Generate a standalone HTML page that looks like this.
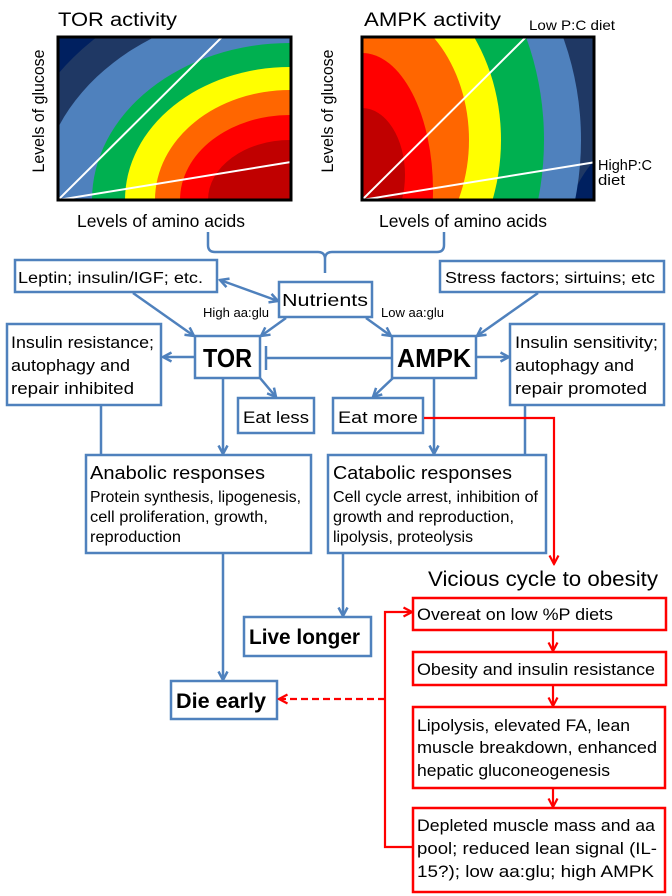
<!DOCTYPE html>
<html><head><meta charset="utf-8"><style>
html,body{margin:0;padding:0;background:#fff;}
svg{display:block;}
text{font-family:"Liberation Sans",Arial,sans-serif;fill:#000;}
</style></head><body>
<svg width="672" height="896" viewBox="0 0 672 896" xmlns="http://www.w3.org/2000/svg">
<defs>
<clipPath id="c1"><rect x="58" y="37" width="233" height="163"/></clipPath>
<clipPath id="c2"><rect x="362" y="37" width="232" height="163"/></clipPath>
<marker id="ab" viewBox="0 0 12 12" refX="10.5" refY="6" markerWidth="12" markerHeight="12" orient="auto-start-reverse" markerUnits="userSpaceOnUse"><path d="M2,1.5 L10.5,6 L2,10.5" fill="none" stroke="#4f81bd" stroke-width="2.5"/></marker>
<marker id="ar" viewBox="0 0 12 12" refX="10.5" refY="6" markerWidth="12" markerHeight="12" orient="auto-start-reverse" markerUnits="userSpaceOnUse"><path d="M2,1.5 L10.5,6 L2,10.5" fill="none" stroke="#ff0000" stroke-width="2.2"/></marker>
</defs>

<!-- Left heatmap -->
<g clip-path="url(#c1)">
<rect x="58" y="37" width="233" height="163" fill="#002060"/>
<ellipse cx="290" cy="200" rx="280" ry="225" fill="#1f3864"/>
<ellipse cx="290" cy="200" rx="250" ry="194" fill="#4f81bd"/>
<ellipse cx="290" cy="200" rx="198" ry="157" fill="#00b050"/>
<ellipse cx="290" cy="200" rx="165" ry="133" fill="#ffff00"/>
<ellipse cx="290" cy="200" rx="135" ry="110" fill="#ff6600"/>
<ellipse cx="290" cy="200" rx="110" ry="85" fill="#ff0000"/>
<ellipse cx="290" cy="200" rx="82" ry="60" fill="#c00000"/>
<line x1="58" y1="200" x2="222" y2="37" stroke="#fff" stroke-width="2"/>
<line x1="58" y1="200" x2="291" y2="162" stroke="#fff" stroke-width="2"/>
</g>
<rect x="58" y="37" width="233" height="163" fill="none" stroke="#000" stroke-width="3"/>

<!-- Right heatmap -->
<g clip-path="url(#c2)">
<rect x="362" y="37" width="232" height="163" fill="#1f3864"/>
<path d="M571,200 Q580,176 594,161 L594,200 Z" fill="#002060"/>
<ellipse cx="362" cy="140" rx="219" ry="259" fill="#4f81bd"/>
<ellipse cx="362" cy="140" rx="182" ry="237" fill="#00b050"/>
<ellipse cx="362" cy="140" rx="139" ry="174" fill="#ffff00"/>
<ellipse cx="362" cy="140" rx="107" ry="138" fill="#ff6600"/>
<ellipse cx="362" cy="190" rx="71" ry="137" fill="#ff0000"/>
<ellipse cx="362" cy="175" rx="43" ry="67" fill="#c00000"/>
</g>
<line x1="362" y1="200" x2="527" y2="36" stroke="#fff" stroke-width="2"/>
<line x1="362" y1="200" x2="596" y2="162" stroke="#fff" stroke-width="2"/>
<rect x="362" y="37" width="232" height="163" fill="none" stroke="#000" stroke-width="3"/>

<!-- Chart labels -->
<text x="58" y="26" font-size="19" textLength="119" lengthAdjust="spacingAndGlyphs">TOR activity</text>
<text x="364" y="26" font-size="19" textLength="137" lengthAdjust="spacingAndGlyphs">AMPK activity</text>
<text x="529" y="30" font-size="14" textLength="86" lengthAdjust="spacingAndGlyphs">Low P:C diet</text>
<text x="598" y="170" font-size="15" textLength="54" lengthAdjust="spacingAndGlyphs">HighP:C</text>
<text x="598" y="185" font-size="15" textLength="27" lengthAdjust="spacingAndGlyphs">diet</text>
<text transform="translate(44,111) rotate(-90)" text-anchor="middle" font-size="17" textLength="123" lengthAdjust="spacingAndGlyphs">Levels of glucose</text>
<text transform="translate(333,111) rotate(-90)" text-anchor="middle" font-size="17" textLength="123" lengthAdjust="spacingAndGlyphs">Levels of glucose</text>
<text x="77" y="227" font-size="17.5" textLength="168" lengthAdjust="spacingAndGlyphs">Levels of amino acids</text>
<text x="379" y="227" font-size="17.5" textLength="168" lengthAdjust="spacingAndGlyphs">Levels of amino acids</text>

<!-- Blue connectors -->
<g fill="none" stroke="#4f81bd" stroke-width="2.5">
<path d="M208,232 L208,245 Q208,252 215,252 L318,252 Q325,252 325,259 L325,273 M325,259 Q325,252 332,252 L437,252 Q444,252 444,245 L444,232"/>
<line x1="220" y1="280" x2="278" y2="301" marker-start="url(#ab)" marker-end="url(#ab)"/>
<line x1="133" y1="293" x2="194" y2="336" marker-end="url(#ab)"/>
<line x1="286" y1="318" x2="261" y2="336" marker-end="url(#ab)"/>
<line x1="366" y1="318" x2="391" y2="336" marker-end="url(#ab)"/>
<line x1="538" y1="293" x2="477" y2="336" marker-end="url(#ab)"/>
<line x1="194" y1="357" x2="163" y2="357" marker-end="url(#ab)"/>
<line x1="477" y1="357" x2="509" y2="357" marker-end="url(#ab)"/>
<line x1="391" y1="358" x2="266" y2="358"/>
<line x1="266" y1="346" x2="266" y2="370"/>
<line x1="260" y1="378" x2="276" y2="397" marker-end="url(#ab)"/>
<line x1="393" y1="378" x2="373" y2="397" marker-end="url(#ab)"/>
<line x1="223" y1="379" x2="223" y2="454" marker-end="url(#ab)"/>
<line x1="434" y1="379" x2="434" y2="454" marker-end="url(#ab)"/>
<line x1="101" y1="405" x2="101" y2="455"/>
<line x1="525" y1="405" x2="525" y2="455"/>
<line x1="223" y1="554" x2="223" y2="680" marker-end="url(#ab)"/>
<line x1="343" y1="554" x2="343" y2="616" marker-end="url(#ab)"/>
</g>

<!-- Blue boxes -->
<g fill="#fff" stroke="#4f81bd" stroke-width="2.5">
<rect x="15" y="260" width="202" height="32"/>
<rect x="279" y="282" width="93" height="35"/>
<rect x="440" y="261" width="224" height="31"/>
<rect x="195" y="336" width="65" height="42"/>
<rect x="392" y="336" width="84" height="42"/>
<rect x="7" y="324" width="154" height="81"/>
<rect x="510" y="324" width="154" height="81"/>
<rect x="238" y="398" width="76" height="35"/>
<rect x="333" y="398" width="90" height="35"/>
<rect x="86" y="455" width="225" height="98"/>
<rect x="328" y="455" width="218" height="98"/>
<rect x="244" y="617" width="127" height="39"/>
<rect x="171" y="681" width="106" height="38"/>
</g>

<!-- Red connectors -->
<g fill="none" stroke="#ff0000" stroke-width="2.2">
<path d="M424,418 L554,418 L554,564" marker-end="url(#ar)"/>
<line x1="553" y1="631" x2="553" y2="651" marker-end="url(#ar)"/>
<line x1="553" y1="686" x2="553" y2="706" marker-end="url(#ar)"/>
<line x1="553" y1="789" x2="553" y2="807" marker-end="url(#ar)"/>
<path d="M412,847 L385,847 L385,612 L412,612" marker-end="url(#ar)"/>
<line x1="385" y1="699" x2="279" y2="699" stroke-dasharray="7,4" marker-end="url(#ar)"/>
</g>

<!-- Red boxes -->
<g fill="#fff" stroke="#ff0000" stroke-width="2.5">
<rect x="413" y="598" width="253" height="32"/>
<rect x="413" y="652" width="253" height="33"/>
<rect x="413" y="707" width="252" height="81"/>
<rect x="413" y="808" width="252" height="84"/>
</g>

<!-- Box texts -->
<text x="18" y="283" font-size="15.5" textLength="185" lengthAdjust="spacingAndGlyphs">Leptin; insulin/IGF; etc.</text>
<text x="282" y="306" font-size="17.5" textLength="86" lengthAdjust="spacingAndGlyphs">Nutrients</text>
<text x="445" y="283" font-size="15.5" textLength="210" lengthAdjust="spacingAndGlyphs">Stress factors; sirtuins; etc</text>
<text x="203" y="317" font-size="13" textLength="66" lengthAdjust="spacingAndGlyphs">High aa:glu</text>
<text x="381" y="317" font-size="13" textLength="63" lengthAdjust="spacingAndGlyphs">Low aa:glu</text>
<text x="203" y="367" font-size="26" font-weight="bold" textLength="49" lengthAdjust="spacingAndGlyphs">TOR</text>
<text x="397" y="367" font-size="26" font-weight="bold" textLength="74" lengthAdjust="spacingAndGlyphs">AMPK</text>

<text x="11" y="348" font-size="17" textLength="143" lengthAdjust="spacingAndGlyphs">Insulin resistance;</text>
<text x="11" y="371" font-size="17" textLength="119" lengthAdjust="spacingAndGlyphs">autophagy and</text>
<text x="11" y="394" font-size="17" textLength="123" lengthAdjust="spacingAndGlyphs">repair inhibited</text>

<text x="515" y="348" font-size="17" textLength="143" lengthAdjust="spacingAndGlyphs">Insulin sensitivity;</text>
<text x="515" y="371" font-size="17" textLength="119" lengthAdjust="spacingAndGlyphs">autophagy and</text>
<text x="515" y="394" font-size="17" textLength="132" lengthAdjust="spacingAndGlyphs">repair promoted</text>

<text x="243" y="423" font-size="17" textLength="66" lengthAdjust="spacingAndGlyphs">Eat less</text>
<text x="338" y="423" font-size="17" textLength="80" lengthAdjust="spacingAndGlyphs">Eat more</text>

<text x="90" y="479" font-size="18.5" textLength="175" lengthAdjust="spacingAndGlyphs">Anabolic responses</text>
<text x="90" y="502" font-size="15.5" textLength="211" lengthAdjust="spacingAndGlyphs">Protein synthesis, lipogenesis,</text>
<text x="90" y="522" font-size="15.5" textLength="178" lengthAdjust="spacingAndGlyphs">cell proliferation, growth,</text>
<text x="90" y="542" font-size="15.5" textLength="91" lengthAdjust="spacingAndGlyphs">reproduction</text>

<text x="333" y="479" font-size="18.5" textLength="179" lengthAdjust="spacingAndGlyphs">Catabolic responses</text>
<text x="333" y="502" font-size="15.5" textLength="205" lengthAdjust="spacingAndGlyphs">Cell cycle arrest, inhibition of</text>
<text x="333" y="522" font-size="15.5" textLength="181" lengthAdjust="spacingAndGlyphs">growth and reproduction,</text>
<text x="333" y="542" font-size="15.5" textLength="140" lengthAdjust="spacingAndGlyphs">lipolysis, proteolysis</text>

<text x="428" y="586" font-size="21" textLength="230" lengthAdjust="spacingAndGlyphs">Vicious cycle to obesity</text>

<text x="249" y="644" font-size="21" font-weight="bold" textLength="111" lengthAdjust="spacingAndGlyphs">Live longer</text>
<text x="176" y="708" font-size="21" font-weight="bold" textLength="90" lengthAdjust="spacingAndGlyphs">Die early</text>

<text x="417" y="620" font-size="17" textLength="196" lengthAdjust="spacingAndGlyphs">Overeat on low %P diets</text>
<text x="417" y="675" font-size="17" textLength="238" lengthAdjust="spacingAndGlyphs">Obesity and insulin resistance</text>
<text x="417" y="731" font-size="17" textLength="213" lengthAdjust="spacingAndGlyphs">Lipolysis, elevated FA, lean</text>
<text x="417" y="753" font-size="17" textLength="240" lengthAdjust="spacingAndGlyphs">muscle breakdown, enhanced</text>
<text x="417" y="776" font-size="17" textLength="193" lengthAdjust="spacingAndGlyphs">hepatic gluconeogenesis</text>
<text x="417" y="831" font-size="17" textLength="238" lengthAdjust="spacingAndGlyphs">Depleted muscle mass and aa</text>
<text x="417" y="854" font-size="17" textLength="240" lengthAdjust="spacingAndGlyphs">pool; reduced lean signal (IL-</text>
<text x="417" y="877" font-size="17" textLength="237" lengthAdjust="spacingAndGlyphs">15?); low aa:glu; high AMPK</text>
</svg>
</body></html>
